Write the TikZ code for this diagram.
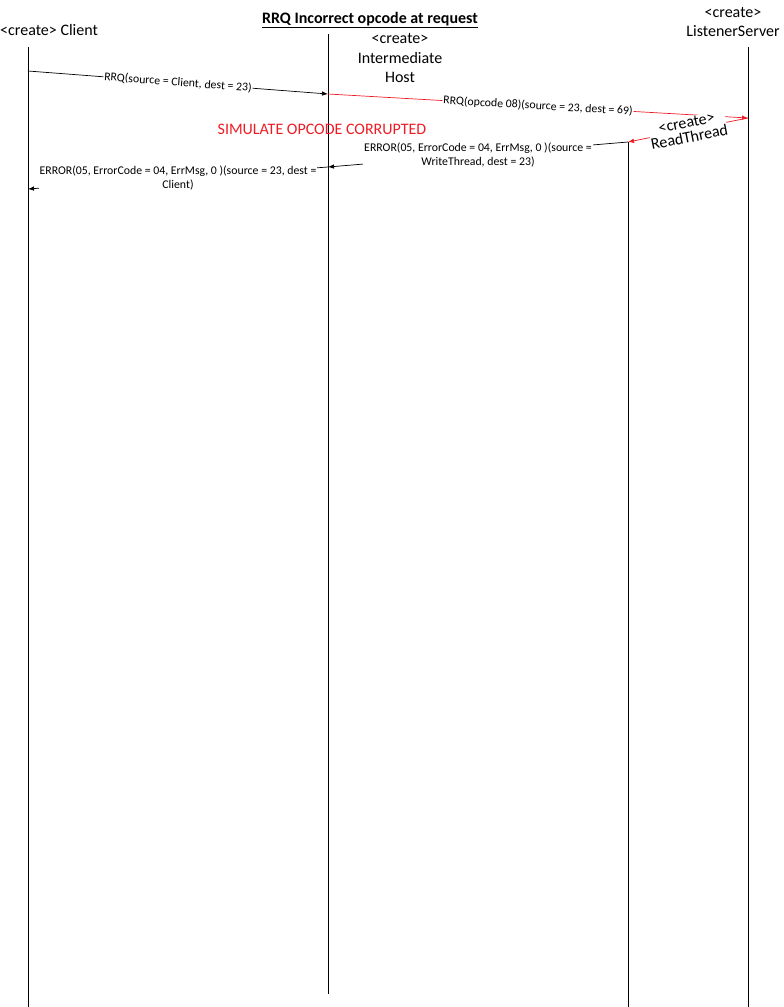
\documentclass[tikz,border=0pt]{standalone}
\usepackage{fontspec}
\setmainfont{Carlito}
\usetikzlibrary{arrows.meta}
\definecolor{msgred}{RGB}{237,28,36}
\begin{document}
\begin{tikzpicture}[x=1pt,y=-1pt,
  life/.style={line width=0.9pt},
  msg/.style={line width=0.7pt,-{Latex[length=6pt,width=4.5pt]}},
  lbl/.style={fill=white,inner sep=1pt,font=\fontsize{11.8}{14}\selectfont,align=center},
  head/.style={font=\fontsize{16}{19.5}\selectfont,align=center,inner sep=0pt}]
\useasboundingbox (0,0) rectangle (784,1007);
% heads
\node[head,anchor=west] (client) at (0,30) {<create> Client};
\node[head] (title) at (370,20) {\bfseries\underline{RRQ Incorrect opcode at request}};
\node[head] (inter) at (400,58) {<create>\\Intermediate\\Host};
\node[head] (listener) at (733,22) {<create>\\ListenerServer};
% lifelines
\coordinate (c0) at (28,47);   \coordinate (c1) at (28,1007);
\coordinate (i0) at (328,34);  \coordinate (i1) at (328,994);
\coordinate (r0) at (628,142); \coordinate (r1) at (628,1007);
\coordinate (l0) at (748,47);  \coordinate (l1) at (748,1007);
\draw[life] (c0) -- (c1);
\draw[life] (i0) -- (i1);
\draw[life] (r0) -- (r1);
\draw[life] (l0) -- (l1);
% message points
\coordinate (m1a) at (28,71);
\coordinate (m1b) at (328,94);
\coordinate (m2b) at (748,118);
\coordinate (m3b) at (628,142);
\coordinate (m4b) at (328,167);
\coordinate (m5b) at (28,189);
\draw[msg] (m1a) -- node[lbl,sloped] (t1) {RRQ(source = Client, dest = 23)} (m1b);
\draw[msg,msgred] (m1b) -- node[lbl,sloped,text=black] (t2) {RRQ(opcode 08)(source = 23, dest = 69)} (m2b);
\draw[msg,msgred] (m2b) -- node[lbl,sloped,text=black,inner sep=0pt,font=\fontsize{16}{15}\selectfont] (t3) {<create>\\ReadThread} (m3b);
\draw[msg] (m3b) -- node[lbl] (t4) {ERROR(05, ErrorCode = 04, ErrMsg, 0 )(source =\\WriteThread, dest = 23)} (m4b);
\draw[msg] (m4b) -- node[lbl] (t5) {ERROR(05, ErrorCode = 04, ErrMsg, 0 )(source = 23, dest =\\Client)} (m5b);
\node[text=msgred,font=\fontsize{16}{18}\selectfont,inner sep=0pt] (sim) at (322,129) {SIMULATE OPCODE CORRUPTED};
\end{tikzpicture}
\end{document}
